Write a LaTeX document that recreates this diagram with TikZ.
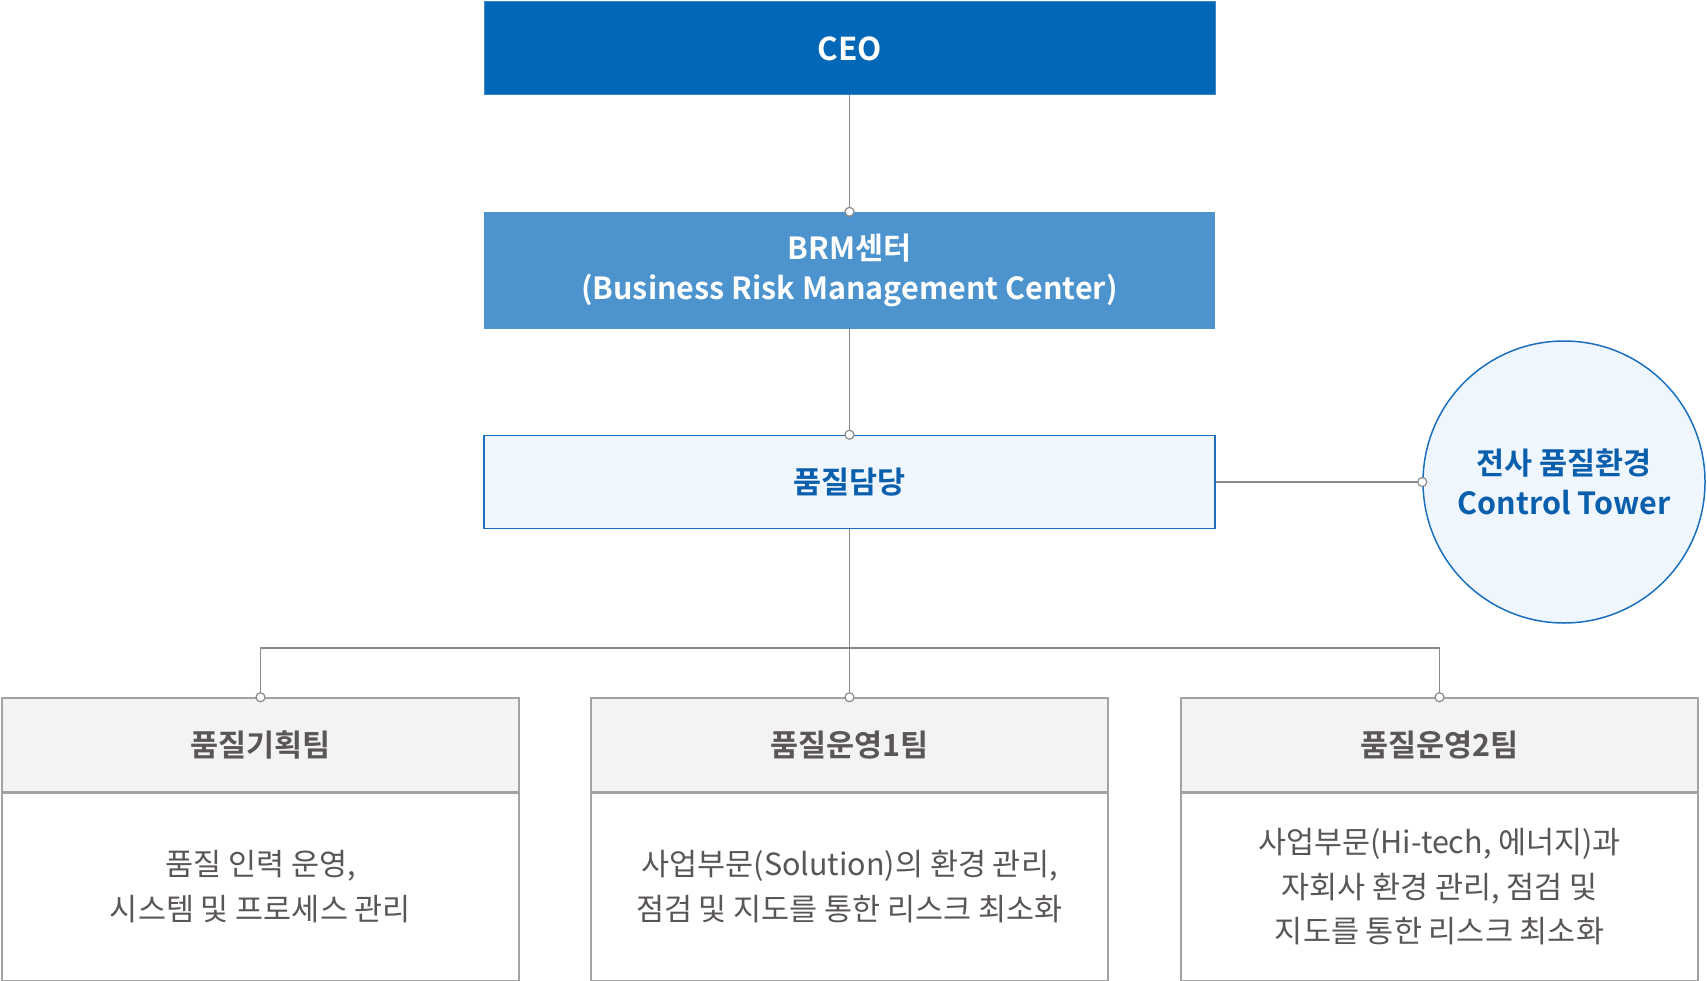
\documentclass[tikz,border=0pt]{standalone}
\usepackage{fontspec}
\setmainfont{Noto Sans CJK KR}[BoldFont={* Bold}]
\definecolor{ceoblue}{RGB}{2,103,182}
\definecolor{ceoedge}{RGB}{60,135,200}
\definecolor{brmblue}{RGB}{77,148,206}
\definecolor{damfill}{RGB}{239,246,253}
\definecolor{damedge}{RGB}{28,111,190}
\definecolor{tblue}{RGB}{10,95,173}
\definecolor{linegray}{RGB}{138,138,138}
\definecolor{boxgray}{RGB}{163,163,163}
\definecolor{hdrfill}{RGB}{243,243,243}
\definecolor{tgray}{RGB}{90,85,88}
\tikzset{
  topbox/.style={rectangle, minimum width=731pt, minimum height=93pt, inner sep=0pt, align=center},
  hdrbox/.style={rectangle, draw=boxgray, line width=1.5pt, fill=hdrfill, minimum width=517pt, minimum height=93.5pt, inner sep=0pt, text=tgray, font=\fontsize{30.5}{36}\selectfont\bfseries},
  bodybox/.style={rectangle, draw=boxgray, line width=1.5pt, fill=white, minimum width=517pt, minimum height=187.5pt, inner sep=0pt, align=center, text=tgray, font=\fontsize{30.5}{44.6}\selectfont},
  conn/.style={draw=linegray, line width=1.5pt},
  mk/.style={circle, draw=linegray, fill=white, line width=1.2pt, minimum size=9pt, inner sep=0pt}
}
\begin{document}
\begin{tikzpicture}[x=1pt,y=-1pt]
\useasboundingbox (0,0) rectangle (1707,981);
\node[topbox, fill=ceoblue, draw=ceoedge, line width=1pt, text=white, font=\fontsize{31.5}{38}\selectfont\bfseries] (ceo) at (849.5,48.5) {CEO};
\node[topbox, fill=brmblue, minimum height=117pt, text=white, font=\fontsize{30.5}{40.5}\selectfont\bfseries] (brm) at (849.5,270.5) {BRM센터\\(Business Risk Management Center)};
\node[topbox, fill=damfill, draw=damedge, line width=1.5pt, text=tblue, font=\fontsize{30.5}{36}\selectfont\bfseries] (dam) at (849.5,482) {품질담당};
\node[circle, minimum size=282pt, inner sep=0pt, fill=damfill, draw=damedge, line width=1.5pt, text=tblue, align=center, font=\fontsize{30.5}{40.5}\selectfont\bfseries] (ct) at (1564,482) {전사 품질환경\\Control Tower};

\node[hdrbox] (h1) at (260.5,744.75) {품질기획팀};
\node[hdrbox] (h2) at (849.5,744.75) {품질운영1팀};
\node[hdrbox] (h3) at (1439.5,744.75) {품질운영2팀};
\node[bodybox, anchor=north] (b1) at (h1.south) {품질 인력 운영,\\시스템 및 프로세스 관리};
\node[bodybox, anchor=north] (b2) at (h2.south) {사업부문(Solution)의 환경 관리,\\점검 및 지도를 통한 리스크 최소화};
\node[bodybox, anchor=north] (b3) at (h3.south) {사업부문(Hi-tech, 에너지)과\\자회사 환경 관리, 점검 및\\지도를 통한 리스크 최소화};

\coordinate (bus) at (849.5,648);
\draw[conn] (ceo.south) -- (brm.north) node[mk, pos=1] {};
\draw[conn] (brm.south) -- (dam.north) node[mk, pos=1] {};
\draw[conn] (dam.east) -- (ct.west) node[mk, pos=1] {};
\draw[conn] (dam.south) -- (h2.north) node[mk, pos=1] {};
\draw[conn] (bus) -| (h1.north) node[mk, pos=1] {};
\draw[conn] (bus) -| (h3.north) node[mk, pos=1] {};
\end{tikzpicture}
\end{document}
